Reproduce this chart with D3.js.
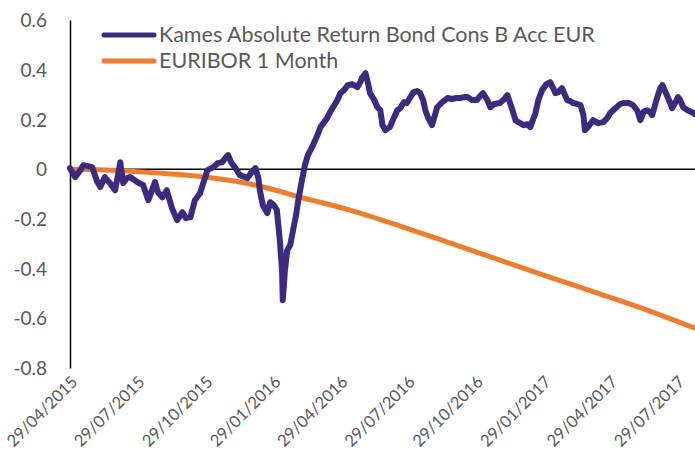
<html>
<head>
<meta charset="utf-8">
<style>
    body { margin: 0; background: white; }
    .axisText text {
        fill: #595959;
        font-family: Lato, "Open Sans", sans-serif;
        font-size: 19px;
    }
    .dateText text {
        fill: #595959;
        font-family: Lato, "Open Sans", sans-serif;
        font-size: 16.5px;
    }
    .legendText {
        fill: #595959;
        font-family: Lato, "Open Sans", sans-serif;
        font-size: 21.5px;
    }
</style>
</head>
<body>
<svg id="chart" width="695" height="457"></svg>
<script src="https://d3js.org/d3.v7.min.js"></script>
<script>
// days since 29/04/2015 and fund return (%)
let kamesDays = [0, 7, 14, 18, 24, 30, 37, 41, 47, 54, 61, 65, 68, 72, 77, 81, 91, 99, 106, 111,
    115, 119, 125, 131, 138, 145, 152, 157, 163, 169, 176, 186, 194, 200, 206, 210, 214, 218, 223, 230,
    240, 246, 251, 255, 257, 261, 267, 271, 276, 280, 284, 287, 288, 291, 294, 298, 302, 306, 309, 314,
    318, 322, 329, 335, 339, 344, 348, 352, 356, 362, 366, 371, 376, 382, 389, 393, 395, 400, 404, 406,
    412, 416, 420, 423, 427, 431, 433, 437, 443, 447, 452, 456, 460, 465, 470, 474, 478, 481, 485, 490,
    494, 497, 504, 511, 517, 523, 528, 534, 538, 544, 551, 555, 559, 565, 569, 574, 582, 588, 592, 599,
    603, 607, 614, 619, 623, 630, 634, 639, 645, 650, 654, 657, 661, 666, 670, 673, 677, 681, 687, 691,
    695, 697, 702, 708, 715, 722, 727, 731, 738, 745, 749, 756, 762, 768, 772, 777, 781, 785, 788, 792,
    795, 799, 802, 806, 809, 813, 815, 819, 823, 826, 830, 836, 842, 846]
let kamesValues = [0.004, -0.032, -0.004, 0.016, 0.012, 0.008, -0.052, -0.072, -0.032, -0.056, -0.085, -0.024, 0.028, -0.056, -0.036, -0.032, -0.052, -0.064, -0.125, -0.085,
    -0.052, -0.093, -0.113, -0.085, -0.157, -0.205, -0.173, -0.197, -0.193, -0.125, -0.097, -0.004, 0.008, 0.024, 0.028, 0.044, 0.056, 0.028, 0.008, -0.024,
    -0.036, -0.012, 0.004, -0.036, -0.085, -0.145, -0.177, -0.133, -0.145, -0.165, -0.286, -0.406, -0.527, -0.406, -0.326, -0.306, -0.245, -0.185, -0.125, -0.044,
    0.016, 0.056, 0.097, 0.137, 0.169, 0.189, 0.205, 0.229, 0.249, 0.278, 0.306, 0.318, 0.338, 0.342, 0.330, 0.350, 0.366, 0.386, 0.338, 0.306,
    0.278, 0.249, 0.237, 0.177, 0.157, 0.165, 0.169, 0.197, 0.237, 0.245, 0.270, 0.266, 0.286, 0.310, 0.314, 0.306, 0.278, 0.237, 0.205, 0.177,
    0.217, 0.249, 0.270, 0.286, 0.282, 0.286, 0.286, 0.290, 0.290, 0.278, 0.278, 0.294, 0.306, 0.278, 0.249, 0.262, 0.266, 0.282, 0.298, 0.237,
    0.197, 0.189, 0.177, 0.181, 0.169, 0.225, 0.278, 0.318, 0.342, 0.350, 0.326, 0.306, 0.310, 0.326, 0.298, 0.278, 0.274, 0.266, 0.262, 0.258,
    0.217, 0.157, 0.173, 0.197, 0.185, 0.189, 0.205, 0.225, 0.245, 0.262, 0.266, 0.266, 0.258, 0.235, 0.197, 0.233, 0.237, 0.229, 0.217, 0.258,
    0.290, 0.326, 0.338, 0.310, 0.290, 0.262, 0.245, 0.266, 0.290, 0.278, 0.249, 0.237, 0.229, 0.221]

// cumulative EURIBOR 1 month
let euriborDays = [0, 41, 81, 122, 163, 203, 244, 284, 311, 339, 379, 447, 515, 582, 650, 718, 785, 846]
let euriborValues = [0, -0.002, -0.008, -0.016, -0.026, -0.040, -0.060, -0.089, -0.113, -0.133, -0.165, -0.229, -0.298, -0.366, -0.435, -0.503, -0.571, -0.640]

let seriesNames = ["Kames Absolute Return Bond Cons B Acc EUR", "EURIBOR 1 Month"]
let seriesColors = ["#3b2a7e", "#ef7d30"]

let tickLabels = ["29/04/2015", "29/07/2015", "29/10/2015", "29/01/2016", "29/04/2016",
    "29/07/2016", "29/10/2016", "29/01/2017", "29/04/2017", "29/07/2017"]
let yTicks = [0.6, 0.4, 0.2, 0, -0.2, -0.4, -0.6, -0.8]

let parseDate = d3.timeParse("%d/%m/%Y")
let startDate = parseDate("29/04/2015")
let toDate = n => d3.timeDay.offset(startDate, n)

let kames = kamesDays.map((d, i) => ({ date: toDate(d), value: kamesValues[i] }))
let euribor = euriborDays.map((d, i) => ({ date: toDate(d), value: euriborValues[i] }))

let svg = d3.select("#chart")

let xScale = d3.scaleTime()
    .domain([startDate, toDate(846)])
    .range([70, 695])
let yScale = d3.scaleLinear()
    .domain([-0.8, 0.6])
    .range([368, 20])

// y axis, labels only + black line
let yAxis = svg.append("g")
    .attr("class", "axisText")
    .attr("transform", "translate(70,0)")
    .call(d3.axisLeft(yScale).tickValues(yTicks).tickSize(0).tickPadding(23).tickFormat(d => String(+d.toFixed(1))))
yAxis.select("path.domain").attr("stroke", "black").attr("stroke-width", 1.5)
yAxis.selectAll("text").attr("dy", "0.35em")

// horizontal axis crossing at zero
svg.append("line")
    .attr("x1", xScale.range()[0])
    .attr("x2", xScale.range()[1])
    .attr("y1", yScale(0))
    .attr("y2", yScale(0))
    .attr("stroke", "black")
    .attr("stroke-width", 1.5)

// date labels at the bottom, rotated
let xAxis = svg.append("g")
    .attr("class", "dateText")
    .attr("transform", "translate(0," + yScale(-0.8) + ")")
    .call(d3.axisBottom(xScale).tickValues(tickLabels.map(parseDate)).tickSize(0).tickFormat(d3.timeFormat("%d/%m/%Y")))
xAxis.select("path.domain").remove()
xAxis.selectAll("text")
    .attr("y", 0)
    .attr("dy", null)
    .attr("text-anchor", "end")
    .attr("transform", "translate(8,15) rotate(-45)")

let line = d3.line()
    .x(d => xScale(d.date))
    .y(d => yScale(d.value))

svg.append("path")
    .datum(euribor)
    .attr("d", line.curve(d3.curveMonotoneX))
    .attr("fill", "none")
    .attr("stroke", seriesColors[1])
    .attr("stroke-width", 5)
    .attr("stroke-linecap", "round")

svg.append("path")
    .datum(kames)
    .attr("d", line.curve(d3.curveLinear))
    .attr("fill", "none")
    .attr("stroke", seriesColors[0])
    .attr("stroke-width", 6)
    .attr("stroke-linejoin", "round")
    .attr("stroke-linecap", "round")

// legend
let legendY = [35, 61]
seriesNames.forEach((name, i) => {
    svg.append("line")
        .attr("x1", 104).attr("x2", 154)
        .attr("y1", legendY[i]).attr("y2", legendY[i])
        .attr("stroke", seriesColors[i])
        .attr("stroke-width", 5)
        .attr("stroke-linecap", "round")
    svg.append("text")
        .attr("class", "legendText")
        .attr("x", 159)
        .attr("y", legendY[i] + 7)
        .text(name)
})
</script>
</body>
</html>
